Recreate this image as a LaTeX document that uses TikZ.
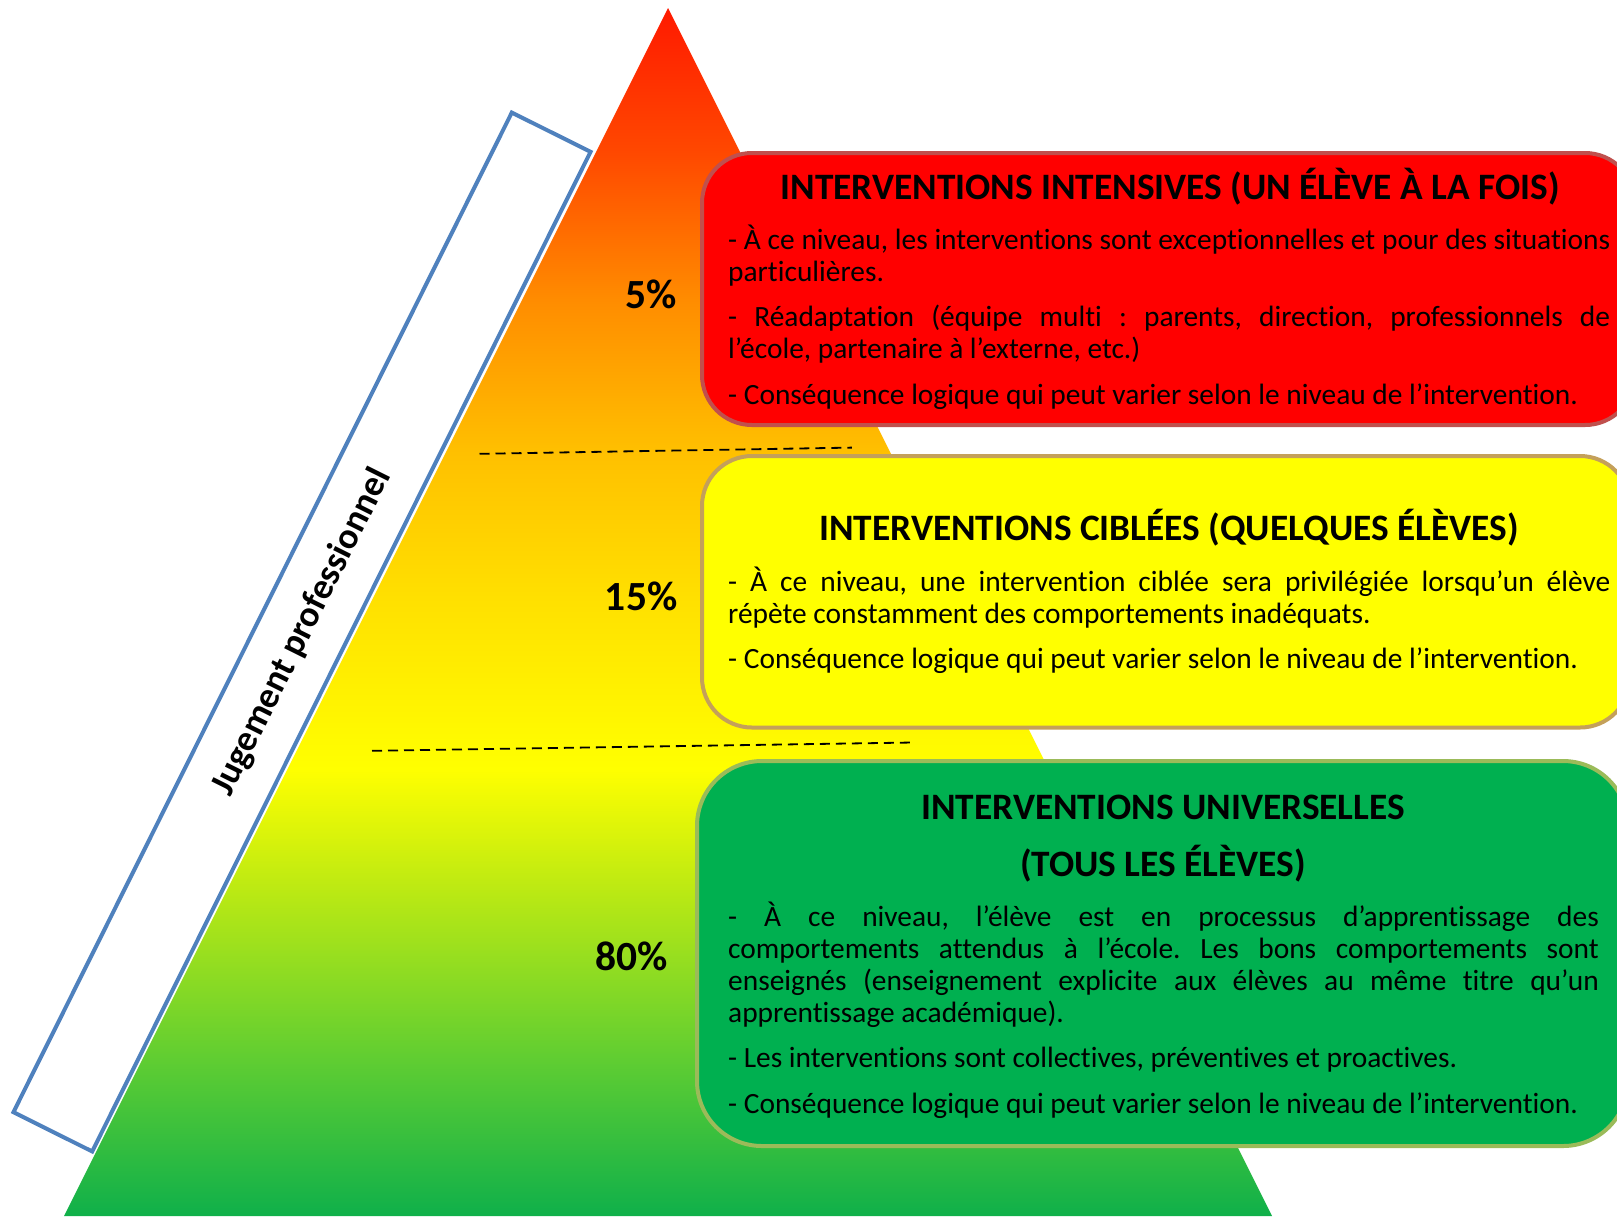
\documentclass[tikz,border=0pt]{standalone}
\usepackage{fontspec}
\setmainfont{Carlito}[Ligatures=NoCommon]
\hyphenpenalty=10000
\exhyphenpenalty=10000
\frenchspacing
\definecolor{boxred}{RGB}{255,0,0}
\definecolor{redborder}{RGB}{192,80,77}
\definecolor{boxyellow}{RGB}{255,255,0}
\definecolor{yellowborder}{RGB}{196,160,90}
\definecolor{boxgreen}{RGB}{0,176,80}
\definecolor{greenborder}{RGB}{155,187,89}
\definecolor{jblue}{RGB}{79,129,189}
\pgfdeclareverticalshading{pyr}{100bp}{%
  rgb(0bp)=(0.06,0.69,0.29);
  rgb(25bp)=(0.06,0.69,0.29);
  rgb(31.2bp)=(0.36,0.80,0.20);
  rgb(39.4bp)=(0.78,0.93,0.06);
  rgb(43.5bp)=(1,1,0);
  rgb(50.5bp)=(1,0.88,0);
  rgb(56.7bp)=(1,0.75,0);
  rgb(62.9bp)=(1,0.55,0);
  rgb(69.1bp)=(1,0.28,0);
  rgb(75bp)=(1,0.1,0);
  rgb(100bp)=(1,0.1,0)}
\begin{document}
\begin{tikzpicture}[x=1bp,y=-1bp,
  tier/.style={draw, line width=4bp, inner sep=0pt},
  tiertitle/.style={font=\bfseries\fontsize{37.3bp}{44bp}\selectfont, inner sep=0pt, anchor=base},
  tierbody/.style={font=\fontsize{29.4bp}{32.1bp}\selectfont, align=justify, inner sep=0pt, anchor=base west},
  pct/.style={font=\bfseries\fontsize{41.5bp}{44bp}\selectfont, inner sep=0pt, anchor=base east},
  dashline/.style={line width=1.8bp, dash pattern=on 10bp off 6bp}]
\useasboundingbox (0,0) rectangle (1617,1216);
\fill[white] (0,0) rectangle (1617,1216);
% pyramid
\coordinate (apex) at (668,8);
\coordinate (bl) at (64,1216);
\coordinate (br) at (1272,1216);
\shade[shading=pyr] (apex) -- (bl) -- (br) -- cycle;
% dashed separators
\coordinate (d1a) at (479.5,453.8);
\coordinate (d1b) at (851.9,447.6);
\coordinate (d2a) at (372,750.8);
\coordinate (d2b) at (912.7,742.5);
\draw[dashline] (d1a) -- (d1b);
\draw[dashline] (d2a) -- (d2b);
% judgement band
\node[draw=jblue, line width=4bp, fill=white, minimum width=1117bp, minimum height=88bp,
      inner sep=0pt, rotate=63.5, font=\bfseries\fontsize{36.5bp}{40bp}\selectfont]
      (jug) at (302,632) {Jugement professionnel};
% percentages
\node[pct] (p5) at (676.7,308.3) {5\%};
\node[pct] (p15) at (677.5,610) {15\%};
\node[pct] (p80) at (668,970.7) {80\%};
% boxes
\node[tier, draw=redborder, fill=boxred, rounded corners=50bp, minimum width=933bp, minimum height=272bp] (red) at (1168.5,289) {};
\node[tier, draw=yellowborder, fill=boxyellow, rounded corners=50bp, minimum width=928bp, minimum height=271.5bp] (yellow) at (1166,591.75) {};
\node[tier, draw=greenborder, fill=boxgreen, rounded corners=65bp, minimum width=931bp, minimum height=385bp] (green) at (1162.5,953.5) {};
% red content
\node[tiertitle] (rtitle) at (1170,199.5) {INTERVENTIONS INTENSIVES (UN ÉLÈVE À LA FOIS)};
\node[tierbody, text width=882bp] (rbody) at (728,249) {\setlength{\parskip}{13.3bp}%
- À ce niveau, les interventions sont exceptionnelles et pour des situations\linebreak particulières.\par
- Réadaptation (équipe multi : parents, direction, professionnels de\linebreak l’école, partenaire à l’externe, etc.)\par
- Conséquence logique qui peut varier selon le niveau de l’intervention.};
% yellow content
\node[tiertitle] (ytitle) at (1169,540) {INTERVENTIONS CIBLÉES (QUELQUES ÉLÈVES)};
\node[tierbody, text width=882bp] (ybody) at (728,591) {\setlength{\parskip}{13.3bp}%
- À ce niveau, une intervention ciblée sera privilégiée lorsqu’un élève\linebreak répète constamment des comportements inadéquats.\par
- Conséquence logique qui peut varier selon le niveau de l’intervention.};
% green content
\node[tiertitle] (gtitle1) at (1163,819) {INTERVENTIONS UNIVERSELLES};
\node[tiertitle] (gtitle2) at (1163,876.5) {(TOUS LES ÉLÈVES)};
\node[tierbody, text width=870.5bp] (gbody) at (728,926) {\setlength{\parskip}{13.3bp}%
- À ce niveau, l’élève est en processus d’apprentissage des\linebreak comportements attendus à l’école. Les bons comportements sont\linebreak enseignés (enseignement explicite aux élèves au même titre qu’un\linebreak apprentissage académique).\par
- Les interventions sont collectives, préventives et proactives.\par
- Conséquence logique qui peut varier selon le niveau de l’intervention.};
\end{tikzpicture}
\end{document}
